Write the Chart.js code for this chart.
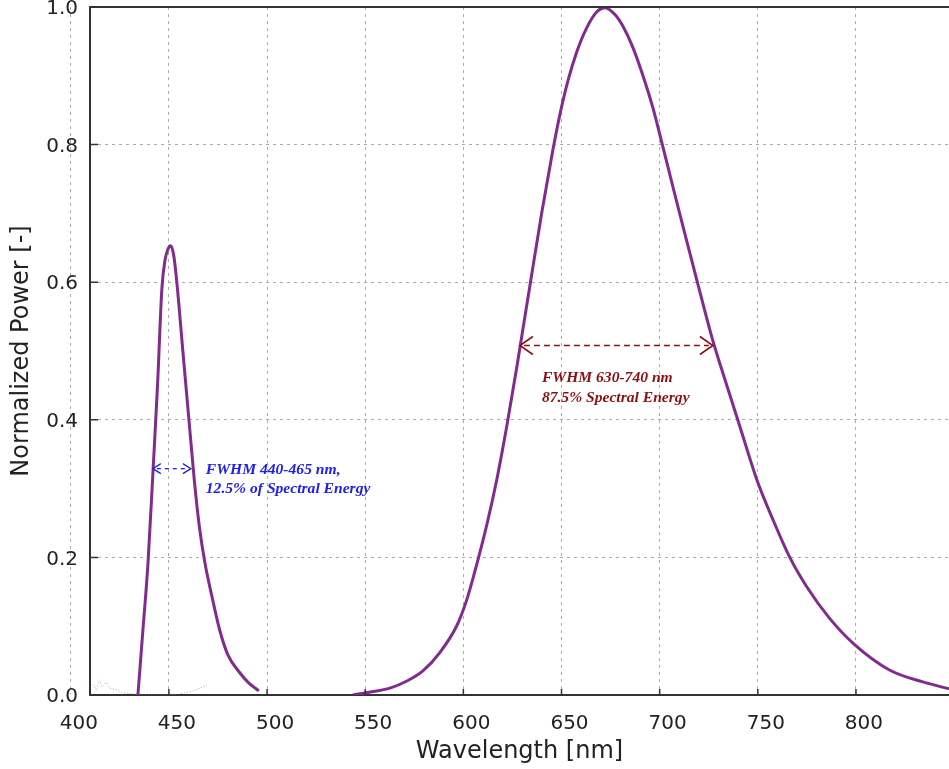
<!DOCTYPE html>
<html><head><meta charset="utf-8">
<script src="https://cdn.jsdelivr.net/npm/chart.js@4"></script>
<style>html,body{margin:0;padding:0;background:#fff;overflow:hidden}canvas{display:block}</style>
</head><body>
<canvas id="c" width="949" height="769"></canvas>
<script>
// ---- data ----
const xTicks = [400, 450, 500, 550, 600, 650, 700, 750, 800];
const yTicks = [0.0, 0.2, 0.4, 0.6, 0.8, 1.0];

const blueWl  = [434.2, 436.8, 439.3, 441.8, 444.2, 446.4, 448.0, 449.5, 451.0, 452.5, 454.1, 457.1, 460.2, 463.0, 465.5, 468.3, 472.4, 476.0, 480.1, 486.2, 490.5, 495.8];
const blueVal = [0.000, 0.096, 0.190, 0.320, 0.450, 0.590, 0.632, 0.648, 0.653, 0.638, 0.598, 0.500, 0.400, 0.310, 0.245, 0.193, 0.137, 0.093, 0.058, 0.032, 0.018, 0.006];

const redWl  = [543.7, 552.0, 562.6, 571.0, 579.4, 588.1, 596.7, 601.8, 605.9, 612.0, 617.1, 622.2, 627.3, 633.9, 640.0, 645.6, 649.2, 653.3, 657.8, 662.9, 668.0, 672.1, 677.2, 681.3, 686.4, 691.5, 696.6, 701.1, 706.8, 711.8, 719.5, 727.1, 732.2, 740.9, 749.5, 757.7, 766.3, 775.0, 786.7, 799.0, 817.3, 834.1, 847.4];
const redVal = [0.000, 0.004, 0.010, 0.020, 0.035, 0.062, 0.101, 0.139, 0.180, 0.248, 0.314, 0.392, 0.478, 0.595, 0.702, 0.792, 0.844, 0.893, 0.935, 0.970, 0.993, 0.999, 0.989, 0.972, 0.941, 0.900, 0.853, 0.803, 0.738, 0.682, 0.597, 0.515, 0.468, 0.390, 0.313, 0.255, 0.200, 0.157, 0.111, 0.074, 0.036, 0.019, 0.009];

const noiseWl  = [411.5, 413.0, 414.5, 416.0, 418.0, 420.0, 423.0, 426.0, 430.0, 436.0, 445.0, 454.0, 458.0, 462.0, 466.0, 469.4];
const noiseVal = [0.015, 0.008, 0.022, 0.012, 0.018, 0.010, 0.008, 0.004, 0.002, 0.001, 0.000, 0.001, 0.003, 0.006, 0.010, 0.015];

const blueFwhm = [441.8, 461.2];
const blueFwhmLevel = 0.329;
const blueNote = ['FWHM 440-465 nm,', '12.5% of Spectral Energy'];
const redFwhm = [628.8, 727.1];
const redFwhmLevel = 0.508;
const redNote = ['FWHM 630-740 nm', '87.5% Spectral Energy'];

// ---- helpers ----
const pts = (xs, ys) => xs.map((x, i) => ({x: x, y: ys[i]}));
const CURVE = '#822b8e';

const annotations = [
  {range: blueFwhm, level: blueFwhmLevel, color: '#2020ee', dash: [4, 4], head: 8, half: 5, lw: 1.3,
   text: blueNote, tx: 468.8, ty: [0.327, 0.300]},
  {range: redFwhm, level: redFwhmLevel, color: '#8b1111', dash: [6, 4], head: 13, half: 9, lw: 1.6,
   text: redNote, tx: 640.0, ty: [0.461, 0.432]}
];

const decor = {
  id: 'decor',
  afterDatasetsDraw(chart) {
    const ctx = chart.ctx, xs = chart.scales.x, ys = chart.scales.y;
    ctx.save();
    annotations.forEach(a => {
      const x1 = xs.getPixelForValue(a.range[0]);
      const x2 = xs.getPixelForValue(a.range[1]);
      const y = ys.getPixelForValue(a.level);
      ctx.strokeStyle = a.color; ctx.lineWidth = a.lw;
      ctx.setLineDash(a.dash);
      ctx.beginPath(); ctx.moveTo(x1 + 4, y); ctx.lineTo(x2 - 4, y); ctx.stroke();
      ctx.setLineDash([]);
      ctx.beginPath();
      ctx.moveTo(x1 + a.head, y - a.half); ctx.lineTo(x1, y); ctx.lineTo(x1 + a.head, y + a.half);
      ctx.moveTo(x2 - a.head, y - a.half); ctx.lineTo(x2, y); ctx.lineTo(x2 - a.head, y + a.half);
      ctx.stroke();
      ctx.fillStyle = a.color;
      ctx.font = 'italic bold 15.6px "Liberation Serif", serif';
      ctx.textAlign = 'left'; ctx.textBaseline = 'middle';
      a.text.forEach((t, i) => ctx.fillText(t, xs.getPixelForValue(a.tx), ys.getPixelForValue(a.ty[i])));
    });
    ctx.restore();
  },
  afterDraw(chart) {
    const ctx = chart.ctx, ca = chart.chartArea, xs = chart.scales.x, ys = chart.scales.y;
    ctx.save();
    ctx.strokeStyle = '#333'; ctx.lineWidth = 2;
    ctx.beginPath(); ctx.moveTo(ca.left - 1, ca.top); ctx.lineTo(ca.right, ca.top); ctx.stroke();
    ctx.lineWidth = 1.5;
    ctx.beginPath();
    yTicks.forEach(v => { const y = ys.getPixelForValue(v); ctx.moveTo(ca.left, y); ctx.lineTo(ca.left + 8, y); });
    xTicks.forEach(v => {
      if (v < xs.min || v > xs.max) return;
      const x = xs.getPixelForValue(v); ctx.moveTo(x, ca.bottom); ctx.lineTo(x, ca.bottom - 6);
    });
    ctx.stroke();
    ctx.restore();
  }
};

const tickFont = {family: '"DejaVu Sans", sans-serif', size: 20};
const titleFont = {family: '"DejaVu Sans", sans-serif', size: 24};

new Chart(document.getElementById('c'), {
  type: 'scatter',
  data: {
    datasets: [
      {label: 'noise', data: pts(noiseWl, noiseVal), showLine: true, borderColor: 'rgba(80,160,110,0.7)',
       borderWidth: 1, borderDash: [1, 2], pointRadius: 0, tension: 0.3},
      {label: 'blue', data: pts(blueWl, blueVal), showLine: true, borderColor: CURVE, borderWidth: 3,
       pointRadius: 0, cubicInterpolationMode: 'monotone'},
      {label: 'red', data: pts(redWl, redVal), showLine: true, borderColor: CURVE, borderWidth: 3,
       pointRadius: 0, cubicInterpolationMode: 'monotone'}
    ]
  },
  options: {
    responsive: false,
    animation: false,
    devicePixelRatio: 1,
    layout: {padding: {top: 7, left: 0, right: 0, bottom: 0}},
    plugins: {legend: {display: false}, tooltip: {enabled: false}},
    scales: {
      x: {
        type: 'linear', min: 409.8, max: 847.4,
        afterBuildTicks: s => { s.ticks = xTicks.map(v => ({value: v})); },
        afterFit: s => { s.height = 74; s.paddingLeft = 0; s.paddingRight = 0; },
        ticks: {autoSkip: false, maxRotation: 0, font: tickFont, color: '#222', padding: 17, labelOffset: 8,
                callback: v => String(v)},
        grid: {color: '#aaaaaa', lineWidth: 1, drawTicks: false, tickLength: 0},
        border: {display: true, color: '#333', width: 2, dash: [3, 4]},
        title: {display: true, text: 'Wavelength [nm]', font: titleFont, color: '#222', padding: {top: 0, bottom: 3}}
      },
      y: {
        type: 'linear', min: 0, max: 1.0,
        afterBuildTicks: s => { s.ticks = yTicks.map(v => ({value: v})); },
        afterFit: s => { s.width = 90; s.paddingTop = 0; s.paddingBottom = 0; },
        ticks: {font: tickFont, color: '#222', padding: 12, labelOffset: 2, callback: v => Number(v).toFixed(1)},
        grid: {color: '#aaaaaa', lineWidth: 1, drawTicks: false, tickLength: 0},
        border: {display: true, color: '#333', width: 2, dash: [3, 4]},
        title: {display: true, text: 'Normalized Power [-]', font: titleFont, color: '#222', padding: {top: 7, bottom: 0}}
      }
    }
  },
  plugins: [decor]
});
</script>
</body></html>
